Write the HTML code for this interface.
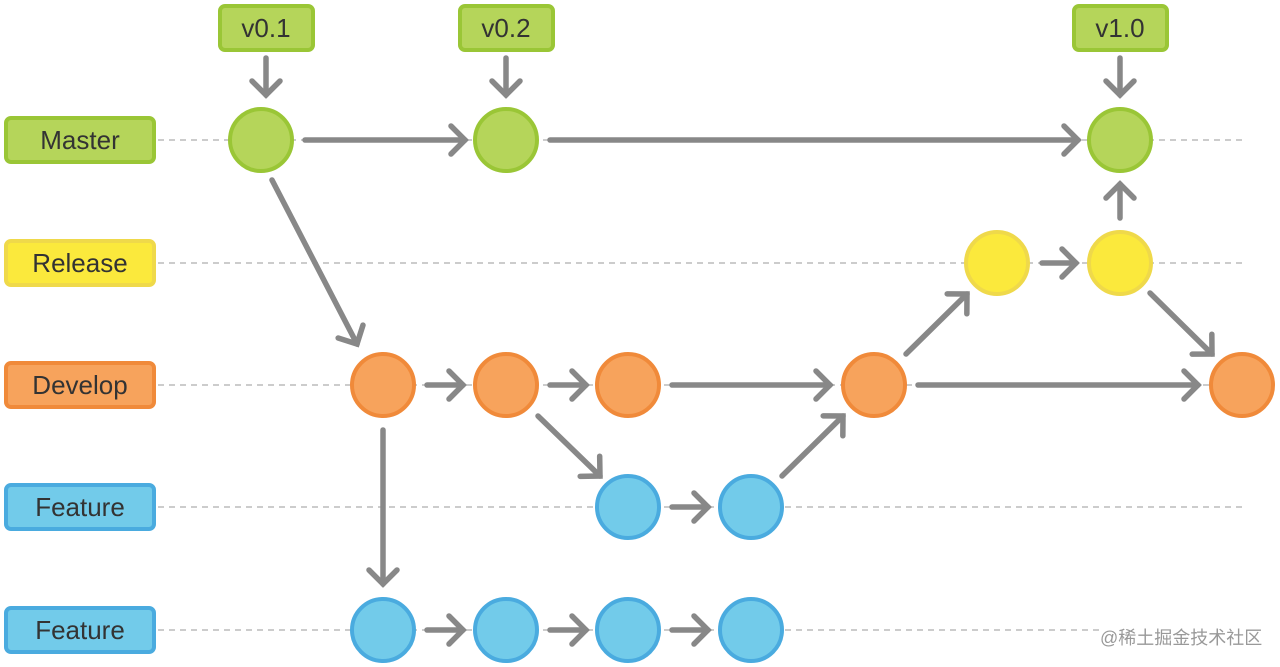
<!DOCTYPE html>
<html><head><meta charset="utf-8"><style>
html,body{margin:0;padding:0;background:#fff;width:1280px;height:667px;overflow:hidden}
text{font-family:"Liberation Sans","Noto Sans CJK SC",sans-serif}
</style></head><body>
<svg width="1280" height="667" viewBox="0 0 1280 667" xmlns="http://www.w3.org/2000/svg">
<defs>
<marker id="a" markerUnits="userSpaceOnUse" markerWidth="40" markerHeight="40" refX="20" refY="20" orient="auto" viewBox="0 0 40 40">
<path d="M6,6 L20,20 L6,34" fill="none" stroke="#888" stroke-width="5.5" stroke-linecap="round" stroke-linejoin="miter"/>
</marker>
</defs>
<g stroke="#bbb" stroke-width="1.5" stroke-dasharray="6,5">
<line x1="158" y1="140" x2="1245" y2="140"/>
<line x1="158" y1="263" x2="1245" y2="263"/>
<line x1="158" y1="385" x2="1245" y2="385"/>
<line x1="158" y1="507" x2="1245" y2="507"/>
<line x1="158" y1="630" x2="1100" y2="630"/>
</g>
<g font-size="26" text-anchor="middle" fill="#333">
<rect x="6" y="118" width="148" height="44" rx="5" fill="#b5d55a" stroke="#9ac636" stroke-width="4"/><text x="80" y="149">Master</text>
<rect x="6" y="241" width="148" height="44" rx="5" fill="#fbe93c" stroke="#efd94a" stroke-width="4"/><text x="80" y="272">Release</text>
<rect x="6" y="363" width="148" height="44" rx="5" fill="#f7a35c" stroke="#f08a3a" stroke-width="4"/><text x="80" y="394">Develop</text>
<rect x="6" y="485" width="148" height="44" rx="5" fill="#72cbea" stroke="#4aabdf" stroke-width="4"/><text x="80" y="516">Feature</text>
<rect x="6" y="608" width="148" height="44" rx="5" fill="#72cbea" stroke="#4aabdf" stroke-width="4"/><text x="80" y="639">Feature</text>
<rect x="220" y="6" width="93" height="44" rx="5" fill="#b5d55a" stroke="#9ac636" stroke-width="4"/><text x="266" y="37">v0.1</text>
<rect x="460" y="6" width="93" height="44" rx="5" fill="#b5d55a" stroke="#9ac636" stroke-width="4"/><text x="506" y="37">v0.2</text>
<rect x="1074" y="6" width="93" height="44" rx="5" fill="#b5d55a" stroke="#9ac636" stroke-width="4"/><text x="1120" y="37">v1.0</text>
</g>
<g stroke="#888" stroke-width="5.5" stroke-linecap="round" marker-end="url(#a)" fill="none">
<line x1="266" y1="58" x2="266" y2="95"/>
<line x1="506" y1="58" x2="506" y2="95"/>
<line x1="1120" y1="58" x2="1120" y2="95"/>
<line x1="305" y1="140" x2="465" y2="140"/>
<line x1="550" y1="140" x2="1078" y2="140"/>
<line x1="1120" y1="218" x2="1120" y2="184"/>
<line x1="272" y1="180" x2="357" y2="344"/>
<line x1="1042" y1="263" x2="1076" y2="263"/>
<line x1="1150" y1="293" x2="1212" y2="354"/>
<line x1="906" y1="354" x2="967" y2="294"/>
<line x1="427" y1="385" x2="463" y2="385"/>
<line x1="550" y1="385" x2="586" y2="385"/>
<line x1="672" y1="385" x2="830" y2="385"/>
<line x1="918" y1="385" x2="1198" y2="385"/>
<line x1="538" y1="416" x2="600" y2="476"/>
<line x1="672" y1="507" x2="708" y2="507"/>
<line x1="782" y1="476" x2="843" y2="416"/>
<line x1="383" y1="430" x2="383" y2="584"/>
<line x1="427" y1="630" x2="463" y2="630"/>
<line x1="550" y1="630" x2="586" y2="630"/>
<line x1="672" y1="630" x2="708" y2="630"/>
</g>
<g stroke-width="4">
<g fill="#b5d55a" stroke="#9ac636"><circle cx="261" cy="140" r="31"/><circle cx="506" cy="140" r="31"/><circle cx="1120" cy="140" r="31"/></g>
<g fill="#fbe93c" stroke="#efd94a"><circle cx="997" cy="263" r="31"/><circle cx="1120" cy="263" r="31"/></g>
<g fill="#f7a35c" stroke="#f08a3a"><circle cx="383" cy="385" r="31"/><circle cx="506" cy="385" r="31"/><circle cx="628" cy="385" r="31"/><circle cx="874" cy="385" r="31"/><circle cx="1242" cy="385" r="31"/></g>
<g fill="#72cbea" stroke="#4aabdf"><circle cx="628" cy="507" r="31"/><circle cx="751" cy="507" r="31"/><circle cx="383" cy="630" r="31"/><circle cx="506" cy="630" r="31"/><circle cx="628" cy="630" r="31"/><circle cx="751" cy="630" r="31"/></g>
</g>
<text x="1100" y="644" font-size="18" fill="#999">@稀土掘金技术社区</text>
</svg>
</body></html>
